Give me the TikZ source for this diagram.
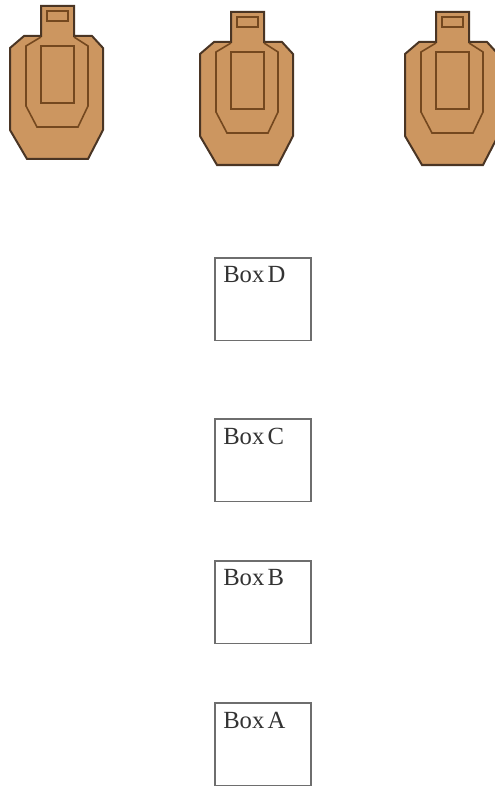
\documentclass[tikz,border=0pt]{standalone}
\usepackage{fontspec}
\setmainfont{Liberation Serif}
\definecolor{tan}{HTML}{CC9660}
\definecolor{edge}{HTML}{4A3524}
\definecolor{inner}{HTML}{74481F}
\definecolor{boxline}{HTML}{6E6E6E}
\tikzset{
  x=0.75pt,y=-0.75pt,
  outline/.style={draw=edge,fill=tan,line width=1.5pt,line join=miter},
  innerline/.style={draw=inner,line width=1.2pt},
  boxnode/.style={draw=boxline,line width=1.2pt,fill=white,minimum width=72pt,minimum height=62pt,inner sep=0pt,anchor=north west},
  boxlabel/.style={font=\fontsize{18.5}{20}\selectfont,inner sep=0pt,anchor=base west,text=black!80}
}
\newcommand{\drawtarget}[2]{%
  \begin{scope}[shift={(#1,#2)}]
    \draw[outline] (41,36) -- (41,6) -- (74,6) -- (74,36) -- (92,36) -- (103,48) -- (103,130) -- (88,159) -- (27,159) -- (10,130) -- (10,48) -- (24,36) -- cycle;
    \draw[innerline] (41,37) -- (26,46) -- (26,106) -- (37,127) -- (78,127) -- (88,106) -- (88,46) -- (74,37);
    \draw[innerline] (41,46) rectangle (74,103);
    \draw[innerline] (47,11) rectangle (68,21);
  \end{scope}}
\begin{document}
\begin{tikzpicture}
\useasboundingbox (0,0) rectangle (494,788);
\drawtarget{0}{0}
\drawtarget{190}{6}
\drawtarget{395}{6}
\node[boxnode] (boxd) at (214,257) {};
\node[boxnode] (boxc) at (214,418) {};
\node[boxnode] (boxb) at (214,560) {};
\node[boxnode] (boxa) at (214,702) {};
\node[boxlabel] at (223,282) {Box\hspace{2.5pt}D};
\node[boxlabel] at (223,444) {Box\hspace{2.5pt}C};
\node[boxlabel] at (223,585) {Box\hspace{2.5pt}B};
\node[boxlabel] at (223,728) {Box\hspace{2.5pt}A};
\end{tikzpicture}
\end{document}
